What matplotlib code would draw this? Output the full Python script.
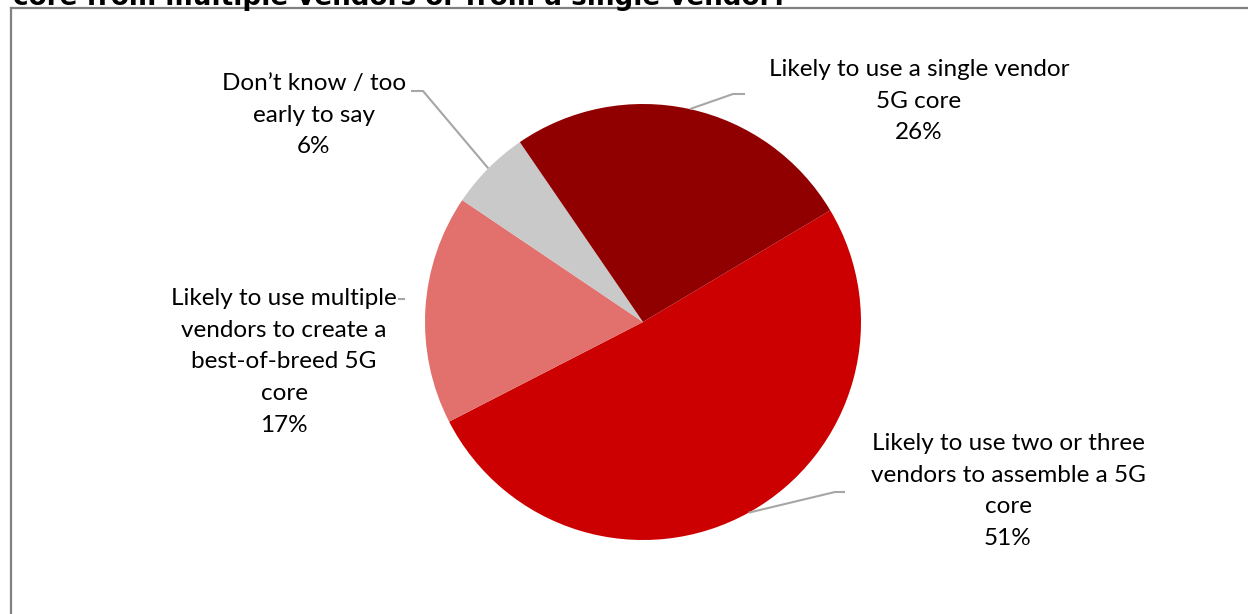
import numpy as np
import matplotlib
matplotlib.use("Agg")
import matplotlib.pyplot as plt

# slices in clockwise order, starting at the right edge of the big red slice
names = ["Likely to use two or three\nvendors to assemble a 5G\ncore",
         "Likely to use multiple\nvendors to create a\nbest-of-breed 5G\ncore",
         "Don\u2019t know / too\nearly to say",
         "Likely to use a single vendor\n5G core"]
values = [51, 17, 6, 26]
colors = ["#CC0000", "#E2706D", "#C9C9C9", "#900000"]
title = "core from multiple vendors or from a single vendor?"

W, H = 1248, 614
fig = plt.figure(figsize=(W / 100, H / 100), dpi=100)
ax = fig.add_axes([0, 0, 1, 1])

cx, cy, r = 643, H - 322, 218
start = 30.8
wedges, _ = ax.pie(values, colors=colors, startangle=start, counterclock=False,
                   center=(cx, cy), radius=r, frame=True,
                   wedgeprops=dict(linewidth=0))

# label centres and leader elbows (pixel layout, y measured from top)
label_pos = [(1008, 491), (284, 362), (314, 115), (919, 101)]
elbows = [[(835, 492), (845, 492)], None,
          [(423, 91), (411, 91)], [(733, 94), (745, 94)]]

for w, name, v, (lx, ly), elb in zip(wedges, names, values, label_pos, elbows):
    ax.text(lx, H - ly, f"{name}\n{v}%", ha="center", va="center",
            fontsize=17.5, family="Lato", linespacing=1.62, color="#000000")
    if elb is None:
        continue
    mid = np.deg2rad((w.theta1 + w.theta2) / 2)
    px, py = cx + r * np.cos(mid), cy + r * np.sin(mid)
    xs = [px] + [e[0] for e in elb]
    ys = [py] + [H - e[1] for e in elb]
    ax.plot(xs, ys, color="#A6A6A6", lw=1.5, solid_capstyle="butt")

# short leftover leader next to the 17% label
ax.plot([399, 404], [H - 299, H - 299], color="#A6A6A6", lw=1.5)

# chart frame (top and left edges visible)
ax.plot([11, W + 5], [H - 8, H - 8], color="#808080", lw=1.6)
ax.plot([11, 11], [H - 8, -5], color="#808080", lw=1.6)

ax.text(13, H - 5, title, ha="left", va="baseline", fontsize=18.9,
        fontweight="bold", family="DejaVu Sans")

ax.set_xlim(0, W)
ax.set_ylim(0, H)
ax.set_aspect("auto")
ax.axis("off")

fig.savefig("out.png", dpi=100)
